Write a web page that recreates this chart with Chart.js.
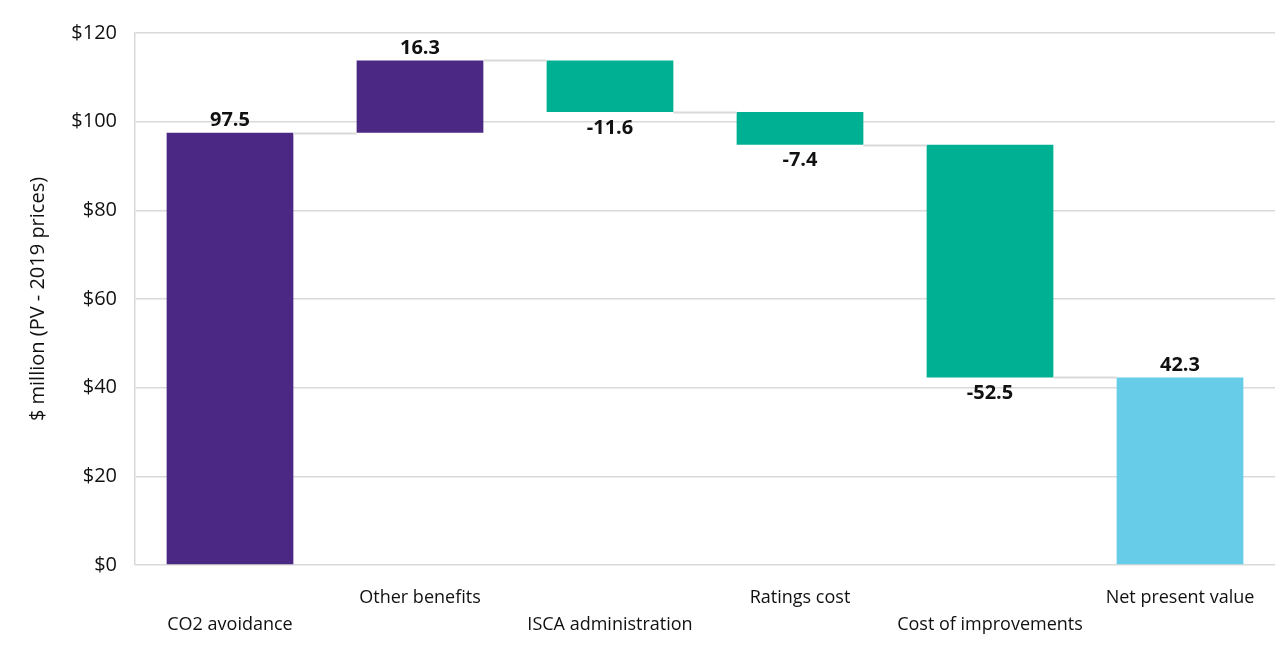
<!DOCTYPE html>
<html>
<head>
<meta charset="utf-8">
<script src="https://cdn.jsdelivr.net/npm/chart.js@4"></script>
<style>
  html,body{margin:0;padding:0;background:#fff}
  #wrap{width:1277px;height:654px;position:relative}
</style>
</head>
<body>
<div id="wrap"><canvas id="chart"></canvas></div>
<script>
// data
var categories = ['CO2 avoidance','Other benefits','ISCA administration','Ratings cost','Cost of improvements','Net present value'];
var changes = [97.5, 16.3, -11.6, -7.4, -52.5];
var netValue = 42.3;
var barColors = ['#4B2884','#4B2884','#00B092','#00B092','#00B092','#66CCE8'];
var yTicks = [0, 20, 40, 60, 80, 100, 120];

// build floating bars from running total
var ranges = [];
var shown = [];
var run = 0;
changes.forEach(function(c){
  var start = run;
  run = Math.round((run + c)*10)/10;
  ranges.push([Math.min(start, run), Math.max(start, run)]);
  shown.push(c);
});
ranges.push([0, netValue]);
shown.push(netValue);

// connector lines + value labels
var waterfallPlugin = {
  id:'waterfall',
  afterDatasetsDraw:function(chart){
    var ctx = chart.ctx;
    var y = chart.scales.y;
    var bars = chart.getDatasetMeta(0).data;
    ctx.save();
    // connectors
    ctx.strokeStyle = '#d9d9d9';
    ctx.lineWidth = 2;
    var level = 0;
    for(var i=0;i<bars.length-1;i++){
      level = (i < changes.length) ? Math.round((level + changes[i])*10)/10 : level;
      var b = bars[i], n = bars[i+1];
      var py = Math.round(y.getPixelForValue(level)) + 0.5;
      ctx.beginPath();
      ctx.moveTo(b.x + b.width/2, py);
      ctx.lineTo(n.x - n.width/2, py);
      ctx.stroke();
    }
    // labels
    ctx.fillStyle = '#111';
    ctx.font = 'bold 20px "Open Sans", sans-serif';
    ctx.textAlign = 'center';
    bars.forEach(function(b, i){
      var v = shown[i];
      var r = ranges[i];
      if(v >= 0){
        ctx.textBaseline = 'bottom';
        ctx.fillText(v.toFixed(1), b.x, y.getPixelForValue(r[1]) - 2);
      } else {
        ctx.textBaseline = 'top';
        ctx.fillText(v.toFixed(1), b.x, y.getPixelForValue(r[0]) + 6);
      }
    });
    ctx.restore();
  }
};

new Chart(document.getElementById('chart'), {
  type:'bar',
  data:{
    labels: categories,
    datasets:[{
      data: ranges,
      backgroundColor: barColors,
      borderWidth: 0,
      categoryPercentage: 1,
      barPercentage: 0.667
    }]
  },
  options:{
    responsive:true,
    maintainAspectRatio:false,
    animation:false,
    layout:{ padding:{ top:33, right:2, left:0, bottom:0 } },
    plugins:{ legend:{ display:false }, tooltip:{ enabled:false } },
    scales:{
      x:{
        grid:{ display:false },
        border:{ display:false },
        afterFit:function(s){ s.height = 89; },
        ticks:{
          color:'#111',
          padding:11,
          maxRotation:0,
          autoSkip:false,
          font:{ family:'"Open Sans", sans-serif', size:18, lineHeight:1.5 },
          callback:function(v, i){
            return (i % 2 === 0) ? ['', categories[i]] : [categories[i], ''];
          }
        }
      },
      y:{
        min:0, max:120,
        afterFit:function(s){ s.width = 135; },
        afterBuildTicks:function(s){ s.ticks = yTicks.map(function(v){ return {value:v}; }); },
        grid:{ color:'#d9d9d9', lineWidth:1.5, drawTicks:false },
        border:{ display:true, color:'#d9d9d9', width:1.5 },
        ticks:{
          color:'#111',
          padding:18,
          font:{ family:'"Open Sans", sans-serif', size:20 },
          callback:function(v){ return '$' + v; }
        },
        title:{
          display:true,
          text:'$ million (PV - 2019 prices)',
          color:'#111',
          padding:{ top:26, bottom:0 },
          font:{ family:'"Open Sans", sans-serif', size:20 }
        }
      }
    }
  },
  plugins:[waterfallPlugin]
});
</script>
</body>
</html>
